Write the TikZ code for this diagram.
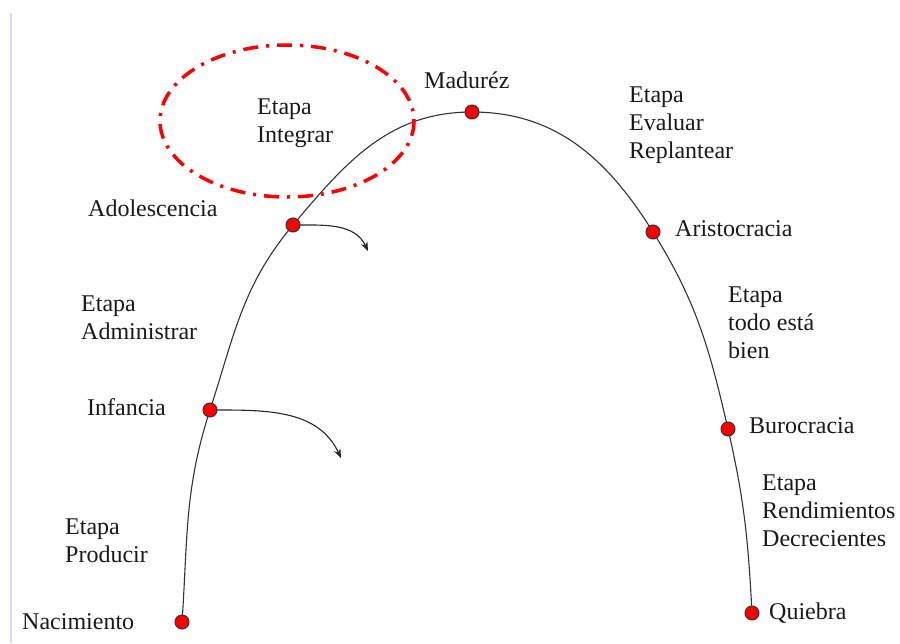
\documentclass[tikz,border=0pt]{standalone}
\usepackage{fontspec}
\setmainfont{Liberation Serif}
\usetikzlibrary{arrows.meta}
\begin{document}
\begin{tikzpicture}[x=1pt,y=-1pt,
  lbl/.style={anchor=base west,inner sep=0pt,align=left,font=\fontsize{24}{28}\selectfont,text=black!90},
  dot/.style={circle,fill=red,draw=black!80,line width=1pt,minimum size=14pt,inner sep=0pt},
  curve/.style={draw=black!80,line width=1.1pt},
  growth/.style={draw=black!85,line width=1.1pt,-{Stealth[length=9pt,width=7pt]}},
  zone/.style={draw=red,line width=3.5pt,dash pattern=on 15pt off 8pt on 3pt off 8pt}]
\useasboundingbox (0,0) rectangle (900,643);
\draw[draw=blue!15,line width=1.2pt] (11,13) -- (11,643);
% points on the curve
\coordinate (cN) at (182,622);
\coordinate (cI) at (210,410);
\coordinate (cA) at (293,225);
\coordinate (cM) at (472,112);
\coordinate (cAr) at (653,232);
\coordinate (cB) at (728,429);
\coordinate (cQ) at (752,613);
\coordinate (tA) at (368,251);
\coordinate (tI) at (341,458);
% life cycle curve
\draw[curve] (cN) to[out=86,in=-108] (cI)
                  to[out=72,in=-130] (cA)
                  to[out=50,in=180] (cM)
                  to[out=0,in=122] (cAr)
                  to[out=-58,in=103] (cB)
                  to[out=-77,in=93] (cQ);
% growth arrows
\draw[growth] (cA) to[out=0,in=115] (tA);
\draw[growth] (cI) to[out=0,in=115] (tI);
% integration zone
\draw[zone] (287,121) ellipse [x radius=127,y radius=76];
% dots
\node[dot] (dN) at (cN) {};
\node[dot] (dI) at (cI) {};
\node[dot] (dA) at (cA) {};
\node[dot] (dM) at (cM) {};
\node[dot] (dAr) at (cAr) {};
\node[dot] (dB) at (cB) {};
\node[dot] (dQ) at (cQ) {};
% labels (multi-line labels are placed by their last baseline)
\node[lbl] (lM) at (424,88) {Maduréz};
\node[lbl] (lInt) at (257,142) {Etapa\\Integrar};
\node[lbl] (lA) at (88,216) {Adolescencia};
\node[lbl] (lEv) at (629,158) {Etapa\\Evaluar\\Replantear};
\node[lbl] (lAr) at (675,236) {Aristocracia};
\node[lbl] (lAd) at (81,339) {Etapa\\Administrar};
\node[lbl] (lTo) at (728,358) {Etapa\\todo está\\bien};
\node[lbl] (lI) at (87,415) {Infancia};
\node[lbl] (lB) at (749,433) {Burocracia};
\node[lbl] (lRe) at (762,546) {Etapa\\Rendimientos\\Decrecientes};
\node[lbl] (lP) at (65,562) {Etapa\\Producir};
\node[lbl] (lN) at (22,629) {Nacimiento};
\node[lbl] (lQ) at (769,619) {Quiebra};
\end{tikzpicture}
\end{document}
